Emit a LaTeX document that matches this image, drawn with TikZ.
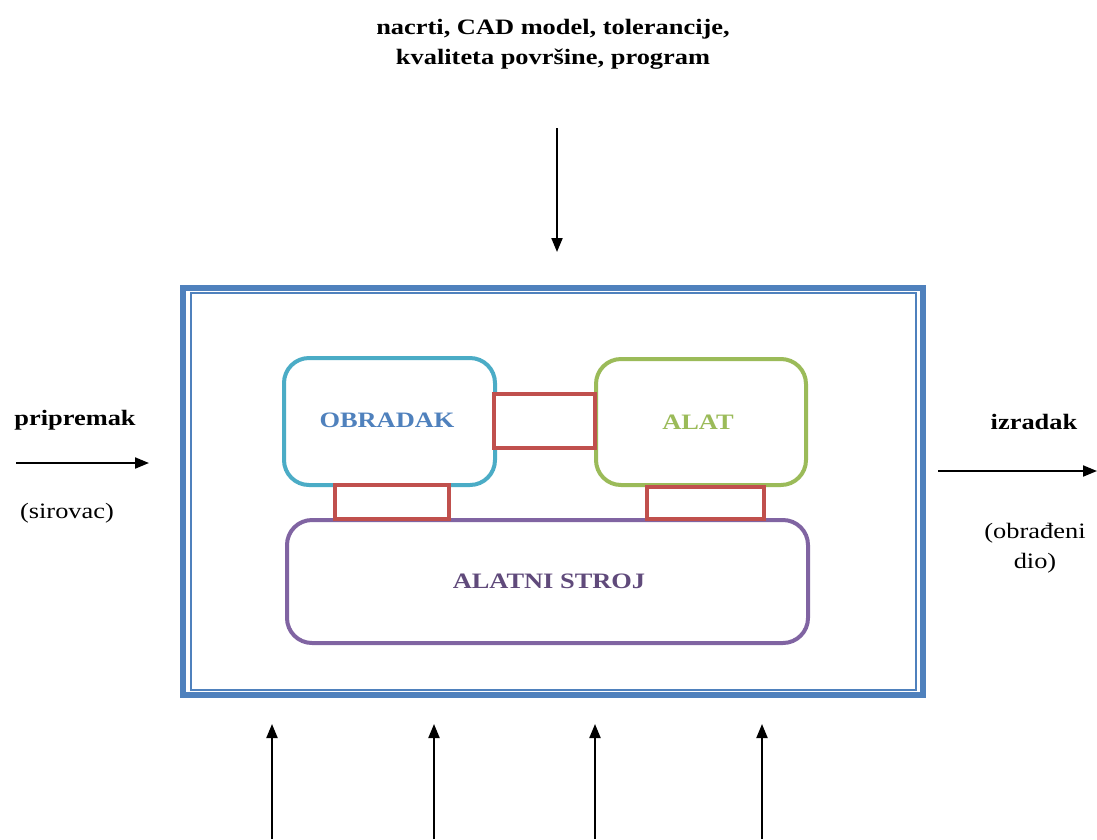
\documentclass[tikz,border=0pt]{standalone}
\usepackage{fontspec}
\setmainfont[FakeStretch=1.2]{Liberation Serif}
\usetikzlibrary{arrows.meta}
\definecolor{oblue}{HTML}{4F81BD}
\definecolor{ocyan}{HTML}{4BACC6}
\definecolor{ogreen}{HTML}{9BBB59}
\definecolor{opurple}{HTML}{8064A2}
\definecolor{odpurple}{HTML}{604A7B}
\definecolor{ored}{HTML}{C0504D}
\tikzset{
  lbl/.style={font=\fontsize{22}{30}\selectfont, align=center, inner sep=0pt},
  blbl/.style={lbl, font=\fontsize{22}{30}\selectfont\bfseries},
  rbox/.style={line width=4pt, rounded corners=25pt, fill=white},
  link/.style={draw=ored, line width=4pt, fill=white},
  arr/.style={line width=2pt, -{Triangle[length=14pt,width=11pt]}},
}
\begin{document}
\begin{tikzpicture}[x=1pt,y=-1pt]
\useasboundingbox (0,0) rectangle (1097,839);
% outer frame
\draw[oblue, line width=6pt] (183,287.5) rectangle (923,695);
\draw[oblue, line width=2pt] (190.5,293) rectangle (915.5,689.5);
\node[draw=none, minimum width=740pt, minimum height=407pt] (sys) at (553,491) {};
% inner boxes
\draw[rbox, draw=ocyan] (284,358) rectangle (495,485);
\node[blbl, text=oblue] (obr) at (387,420) {OBRADAK};
\draw[rbox, draw=ogreen] (596,359) rectangle (806,485);
\node[blbl, text=ogreen] (alat) at (698,422) {ALAT};
\draw[rbox, draw=opurple] (287,520) rectangle (808,643);
\node[blbl, text=odpurple] (stroj) at (549,581) {ALATNI STROJ};
% links
\draw[link] (494,394) rectangle (595,448);
\draw[link] (335,485) rectangle (449,519);
\draw[link] (647,487) rectangle (764,519);
% texts
\node[blbl] (top) at (553,44) {nacrti, CAD model, tolerancije,\\kvaliteta površine, program};
\node[blbl] (prip) at (75,420) {pripremak};
\node[lbl] (sirov) at (67,513) {(sirovac)};
\node[blbl] (izr) at (1034,422) {izradak};
\node[lbl] (obrd) at (1035,548) {(obrađeni\\dio)};
% arrows
\coordinate (t0) at (557,128); \coordinate (t1) at (557,252);
\draw[arr] (t0) -- (t1);
\coordinate (l0) at (16,463); \coordinate (l1) at (149,463);
\draw[arr] (l0) -- (l1);
\coordinate (r0) at (938,471); \coordinate (r1) at (1097,471);
\draw[arr] (r0) -- (r1);
\foreach \x/\n in {272/a,434/b,595/c,762/d}{
  \coordinate (b0\n) at (\x,839); \coordinate (b1\n) at (\x,724);
  \draw[arr] (b0\n) -- (b1\n);
}
\end{tikzpicture}
\end{document}
